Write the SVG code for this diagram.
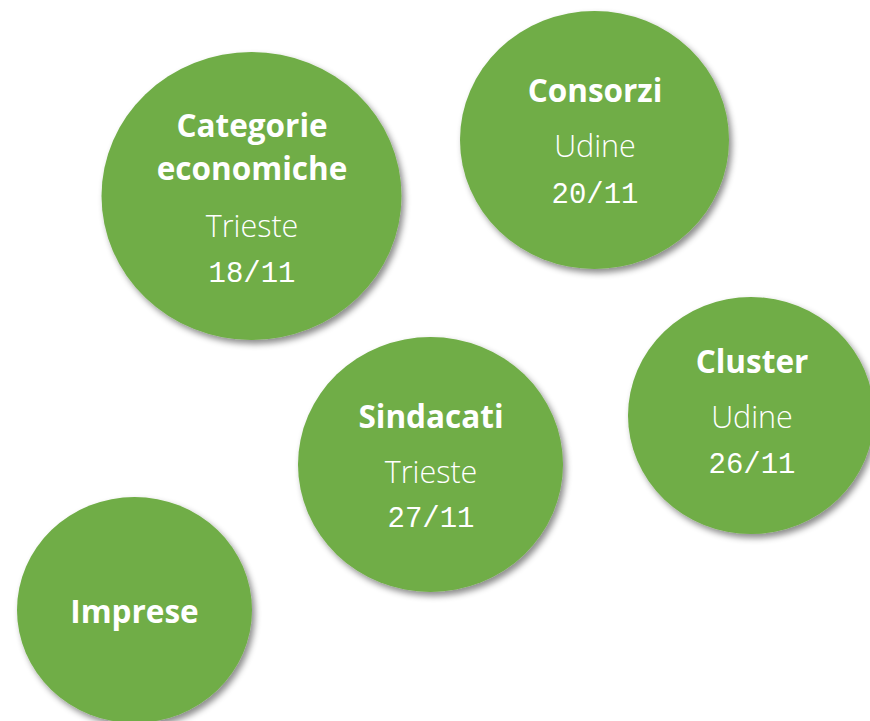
<svg xmlns="http://www.w3.org/2000/svg" width="870" height="721" viewBox="0 0 870 721">
<defs>
<filter id="sh" x="-20%" y="-20%" width="140%" height="140%">
<feDropShadow dx="3" dy="4" stdDeviation="3" flood-color="#000" flood-opacity="0.45"/>
</filter>
<style>
.c{fill:#70AD47;filter:url(#sh)}
.t{font-family:"Open Sans","Noto Sans",sans-serif;font-weight:700;font-size:31.5px;fill:#fff;text-anchor:middle}
.p{font-family:"Open Sans","Noto Sans",sans-serif;font-weight:350;font-size:30.5px;fill:#fff;text-anchor:middle}
.d{font-family:"Liberation Mono","DejaVu Sans Mono",monospace;font-weight:400;font-size:29px;fill:#fff;text-anchor:middle}
</style>
</defs>
<rect width="870" height="721" fill="#fff"/>
<g id="categorie">
<ellipse class="c" cx="251.5" cy="196" rx="150" ry="144"/>
<text class="t" x="252" y="137">Categorie</text>
<text class="t" x="252" y="180">economiche</text>
<text class="p" x="252" y="237">Trieste</text>
<text class="d" x="252" y="282">18/11</text>
</g>
<g id="consorzi">
<ellipse class="c" cx="594.5" cy="140" rx="134.5" ry="129"/>
<text class="t" x="595" y="102">Consorzi</text>
<text class="p" x="595" y="157">Udine</text>
<text class="d" x="595" y="203">20/11</text>
</g>
<g id="cluster">
<ellipse class="c" cx="751" cy="415.5" rx="123" ry="118.5"/>
<text class="t" x="752" y="373">Cluster</text>
<text class="p" x="752" y="428">Udine</text>
<text class="d" x="752" y="473">26/11</text>
</g>
<g id="sindacati">
<ellipse class="c" cx="430.5" cy="464.5" rx="132.5" ry="127.5"/>
<text class="t" x="431" y="428">Sindacati</text>
<text class="p" x="431" y="483">Trieste</text>
<text class="d" x="431" y="527">27/11</text>
</g>
<g id="imprese">
<ellipse class="c" cx="134.5" cy="610" rx="117.5" ry="113"/>
<text class="t" x="134.5" y="623">Imprese</text>
</g>
<g id="connectors"/>
</svg>
